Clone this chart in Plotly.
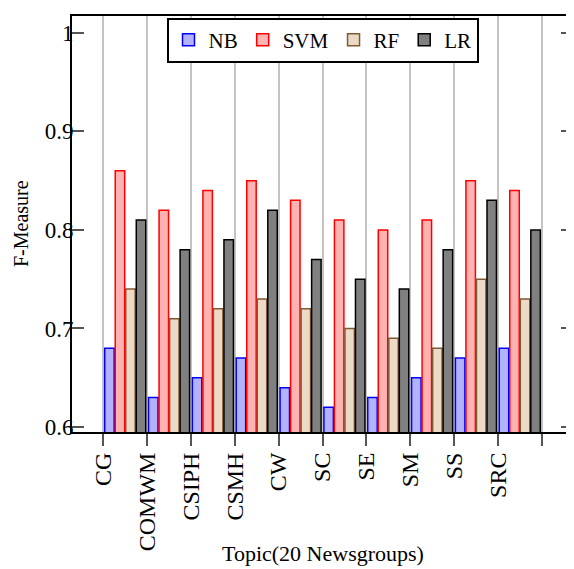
import plotly.graph_objects as go

topics = ["CG", "COMWM", "CSIPH", "CSMH", "CW", "SC", "SE", "SM", "SS", "SRC"]
tick_labels = topics + [""]
nb = [0.68, 0.63, 0.65, 0.67, 0.64, 0.62, 0.63, 0.65, 0.67, 0.68]
svm = [0.86, 0.82, 0.84, 0.85, 0.83, 0.81, 0.80, 0.81, 0.85, 0.84]
rf = [0.74, 0.71, 0.72, 0.73, 0.72, 0.70, 0.69, 0.68, 0.75, 0.73]
lr = [0.81, 0.78, 0.79, 0.82, 0.77, 0.75, 0.74, 0.78, 0.83, 0.80]
y_ticks = [0.6, 0.7, 0.8, 0.9, 1.0]
y_tick_text = ["0.6", "0.7", "0.8", "0.9", "1"]

positions = [i + 0.5 for i in range(len(topics))]

series = [
    ("NB", nb, "rgb(178,178,255)", "rgb(0,0,255)"),
    ("SVM", svm, "rgb(255,178,178)", "rgb(255,0,0)"),
    ("RF", rf, "rgb(236,217,198)", "rgb(128,90,50)"),
    ("LR", lr, "rgb(128,128,128)", "rgb(0,0,0)"),
]

FONT = "Liberation Serif"

fig = go.Figure()
for name, vals, fill, stroke in series:
    fig.add_trace(go.Bar(
        name=name, x=positions, y=vals,
        marker=dict(color=fill, line=dict(color=stroke, width=1.5)),
    ))

# the page body has an 8px margin, so the figure is sized to the remaining area
fig.update_layout(
    width=566, height=561,
    margin=dict(l=64, r=1, t=8, b=137, autoexpand=False),
    plot_bgcolor="white", paper_bgcolor="white",
    barmode="group", bargap=0.04, bargroupgap=0.1,
    font=dict(family=FONT, size=22, color="black"),
    showlegend=True,
    legend=dict(
        orientation="h", x=0.5, xanchor="center", y=0.996, yanchor="top",
        bordercolor="black", borderwidth=2, bgcolor="white",
        font=dict(family=FONT, size=21), itemwidth=30,
        traceorder="normal", tracegroupgap=0,
    ),
)

fig.update_xaxes(
    automargin=False,
    range=[-0.714, 10.714],
    tickmode="array", tickvals=list(range(len(tick_labels))), ticktext=tick_labels,
    tickangle=-90,
    ticks="outside", ticklen=12, tickwidth=1.5, tickcolor="#555",
    showgrid=True, gridcolor="#c4c4c4", gridwidth=1.5,
    showline=True, linecolor="black", linewidth=2, mirror=True,
    zeroline=False,
    tickfont=dict(family=FONT, size=24),
    ticklabelstandoff=-3,
)
fig.update_yaxes(
    automargin=False,
    range=[0.595, 1.017],
    tickmode="array", tickvals=y_ticks, ticktext=y_tick_text,
    ticks="inside", ticklen=12, tickwidth=1.5, tickcolor="#555",
    showgrid=False,
    showline=True, linecolor="black", linewidth=2, mirror="ticks",
    zeroline=False,
    tickfont=dict(family=FONT, size=23),
    ticklabelstandoff=-8,
)

fig.add_annotation(
    text="Topic(20 Newsgroups)", xref="paper", yref="paper",
    x=0.5, y=0, yshift=-121, xanchor="center", yanchor="middle",
    showarrow=False, font=dict(family=FONT, size=22),
)
fig.add_annotation(
    text="F-Measure", xref="paper", yref="paper",
    x=0, y=0.5, xshift=-51, xanchor="center", yanchor="middle",
    textangle=-90, showarrow=False, font=dict(family=FONT, size=20),
)

fig.write_html("out.html")
